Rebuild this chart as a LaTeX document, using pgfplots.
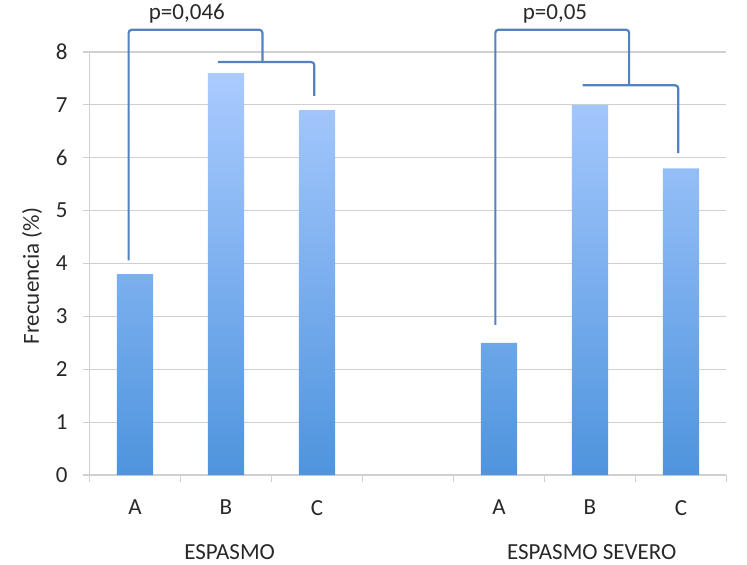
\documentclass[border=0pt]{standalone}
\usepackage{pgfplots}
\pgfplotsset{compat=1.18}
\usepackage{fontspec}
\setmainfont{Carlito}

\definecolor{barTop}{RGB}{170,203,255}
\definecolor{barBot}{RGB}{78,148,222}
\definecolor{brk}{RGB}{84,130,190}
\definecolor{gridc}{RGB}{208,208,208}
\definecolor{txt}{RGB}{40,40,40}

\begin{document}
\begin{tikzpicture}[font=\fontsize{11.5}{13.8}\selectfont]
% page = 747x564 px at 0.5pt per px
\useasboundingbox (-44.75pt,-44.5pt) rectangle (328.75pt,237.5pt);
\begin{axis}[
  scale only axis, width=318.5pt, height=211.5pt,
  xmin=0.5, xmax=7.5, ymin=0, ymax=8,
  clip=false,
  axis x line*=bottom, axis y line*=left,
  axis line style={draw=gridc, line width=0.6pt},
  xtick={0.5,1.5,...,7.5}, xticklabels={},
  extra x ticks={1,2,3,5,6,7},
  extra x tick labels={A,B,C,A,B,C},
  extra x tick style={major tick length=0pt, grid=none,
    xticklabel style={yshift=-9pt}},
  ytick={0,...,8},
  ymajorgrids, grid style={draw=gridc, line width=0.6pt},
  tick align=outside, major tick length=3.5pt,
  tick style={draw=gridc, line width=0.6pt},
  ticklabel style={text=txt},
  yticklabel style={xshift=-4pt},
  /pgf/number format/assume math mode=true,
  ylabel={Frecuencia (\%)},
  ylabel style={at={(axis description cs:-0.0903,0.47)}, anchor=center, text=txt},
]
\addplot[ybar, bar width=0.4, draw=none, top color=barTop, bottom color=barBot]
  coordinates {(1,3.8) (2,7.6) (3,6.9) (5,2.5) (6,7.0) (7,5.8)};

% significance brackets
\draw[brk, line width=1.1pt, rounded corners=1.5pt]
  (axis cs:0.93,4.06) -- (axis cs:0.93,8.42) -- (axis cs:2.40,8.42) -- (axis cs:2.40,7.81);
\draw[brk, line width=1.1pt, rounded corners=1.5pt]
  (axis cs:1.91,7.81) -- (axis cs:2.97,7.81) -- (axis cs:2.97,7.17);
\draw[brk, line width=1.1pt, rounded corners=1.5pt]
  (axis cs:4.96,2.84) -- (axis cs:4.96,8.42) -- (axis cs:6.43,8.42) -- (axis cs:6.43,7.37);
\draw[brk, line width=1.1pt, rounded corners=1.5pt]
  (axis cs:5.92,7.37) -- (axis cs:6.97,7.37) -- (axis cs:6.97,6.09);

\node[text=txt] at (axis cs:1.57,8.72) {p=0,046};
\node[text=txt] at (axis cs:5.615,8.72) {p=0,05};

\node[text=txt] at (axis cs:2.04,-1.456) {ESPASMO};
\node[text=txt] at (axis cs:6.02,-1.456) {ESPASMO SEVERO};
\end{axis}
\end{tikzpicture}
\end{document}
